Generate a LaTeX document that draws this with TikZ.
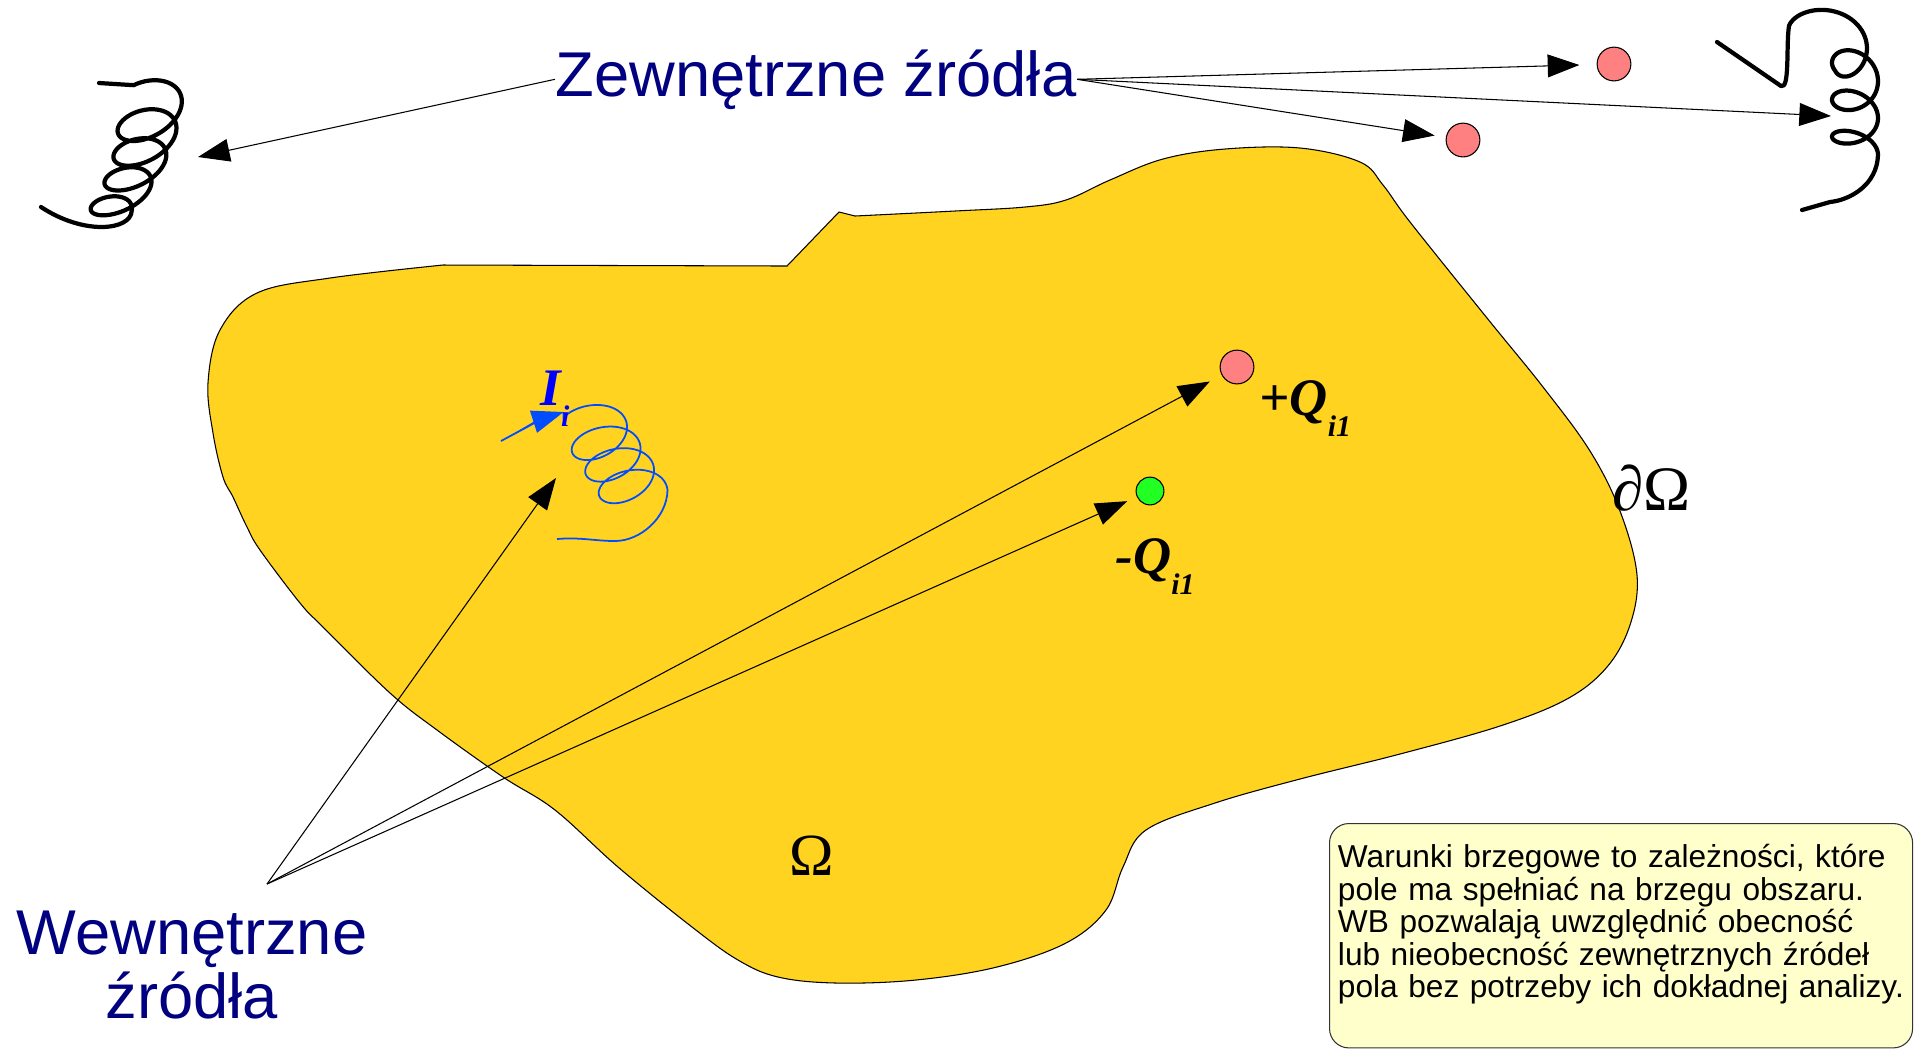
\documentclass[tikz,border=0pt]{standalone}
\usepackage{fontspec}
\setmainfont{Liberation Serif}
\setsansfont{Liberation Sans}
\usetikzlibrary{arrows.meta}
\definecolor{domainFill}{HTML}{FFD320}
\definecolor{labelNavy}{HTML}{000080}
\definecolor{chargePos}{HTML}{FF8080}
\definecolor{chargeNeg}{HTML}{22FF22}
\definecolor{currentBlue}{HTML}{004DFF}
\definecolor{noteFill}{HTML}{FFFFCC}

\begin{document}
\begin{tikzpicture}[
  x=0.01cm, y=-0.01cm,                          % 1 unit = 1 px of a 1920x1050 sheet, y down
  region/.style={fill=domainFill, draw=black, line width=0.3pt},
  srclabel/.style={font=\sffamily\fontsize{18}{18.4}\selectfont, text=labelNavy,
                   inner sep=0pt, align=center},
  pointer/.style={-{Triangle[length=9pt, width=6.5pt]}, draw=black, line width=0.3pt},
  spring/.style={draw=black, line width=1.2pt, line cap=round, line join=round},
  current/.style={draw=currentBlue, line width=0.5pt},
  poscharge/.style={circle, draw=black, line width=0.3pt, fill=chargePos,
                    minimum size=9.6pt, inner sep=0pt},
  negcharge/.style={circle, draw=black, line width=0.3pt, fill=chargeNeg,
                    minimum size=7.9pt, inner sep=0pt},
  qlabel/.style={font=\bfseries\itshape\fontsize{15}{15}\selectfont, inner sep=0pt},
  omega/.style={font=\fontsize{17}{17}\selectfont, inner sep=0pt},
  notebox/.style={rectangle, rounded corners=5.5pt, draw=black!80, line width=0.3pt,
                  fill=noteFill, font=\sffamily\fontsize{9}{9.25}\selectfont,
                  align=left, text width=161pt, inner xsep=2.4pt, inner ysep=4pt,
                  text height=8.5pt, text depth=47.3pt}
]
  \useasboundingbox (0,0) rectangle (1920,1050);

  % --- the domain Omega ---
  \draw[region] (787,266) -- (839,212) -- (855,216)
    -- plot[smooth, tension=0.6] coordinates {(855,216) (955,211) (1025,207) (1066,200)
       (1110,180) (1163,159) (1225,149) (1300,148) (1360,162) (1383,185) (1410,222)
       (1487,318) (1543,387) (1590,451) (1620,511) (1637,575) (1630,625) (1607,667)
       (1567,699) (1500,726) (1400,754) (1300,779) (1215,803) (1146,830) (1123,867)
       (1106,910) (1066,943) (997,967) (916,980) (836,983) (778,977) (738,960)
       (692,927) (618,867) (555,810) (503,777) (437,730) (390,693) (323,627)
       (300,603) (260,550) (247,527) (233,497) (223,477) (213,433) (208,383)
       (220,330) (257,293) (330,278) (443,265)}
    -- cycle;

  % --- labels ---
  \node[srclabel, anchor=base] (ext) at (816,96) {Zewnętrzne źródła};
  \node[srclabel, anchor=north] (int) at (192,910) {Wewnętrzne\\źródła};
  \node[omega, anchor=base] (om) at (812,875) {Ω};
  \node[omega, font=\fontsize{18}{18}\selectfont, anchor=base west] (bd) at (1612,510) {∂Ω};

  % --- charges ---
  \node[poscharge] (qplus)  at (1237,367) {};
  \node[negcharge] (qminus) at (1150,491) {};
  \node[poscharge] (qext1)  at (1614,64) {};
  \node[poscharge] (qext2)  at (1463,140) {};
  \node[qlabel, anchor=base west] (lplus) at (1259,415)
    {+Q\raisebox{-6pt}{\fontsize{8.5}{8.5}\selectfont i1}};
  \node[qlabel, anchor=base west] (lminus) at (1115,573)
    {-Q\raisebox{-6pt}{\fontsize{8.5}{8.5}\selectfont i1}};

  % --- external springs (currents outside the domain) ---
  \draw[spring] (99,83)
    -- plot[domain=-120:1440, samples=220]
       ({150-0.184*((\x+90)/100)*((\x+90)/100) + (32-0.005*\x)*cos(\x)},
        {109.7+0.0745*\x + (22-0.006*\x)*sin(\x) - 0.25*(32-0.005*\x)*cos(\x)})
    .. controls (131,230) and (85,236) .. (41,207);
  \draw[spring] (1717,42) -- (1781,86) .. controls (1790,90) and (1786,45) .. (1789,25.8)
    -- plot[domain=180:1440, samples=200]
       ({1822+min(0.1*(\x-180),33) + max(33-0.035*(\x-180),23)*cos(\x)},
        {7.3+0.1026*\x + (27-0.01*\x)*sin(\x)})
    .. controls (1877,185) and (1850,200) .. (1830,202) -- (1802,210);

  % --- internal current loop I_i ---
  \coordinate (leadin) at (501,441);
  \coordinate (coilin) at (563.6,412);
  \draw[current, -{Triangle[length=9pt, width=6.5pt]}, fill=currentBlue]
    (leadin) .. controls (525,428) and (545,418) .. (coilin);
  \draw[current] (coilin)
    -- plot[domain=-150:1080, samples=180]
       ({596+0.0375*\x + 31*cos(\x)}, {431.5+0.06*\x + 21*sin(\x) - 0.2*31*cos(\x)})
    .. controls (667,518) and (640,541) .. (615,541)
    .. controls (595,541) and (580,537) .. (557,539);
  \node[qlabel, text=blue, anchor=base west] (lcur) at (540,405)
    {I\raisebox{-6.2pt}{\fontsize{8.5}{8.5}\selectfont i}};

  % --- pointers from the labels ---
  \coordinate (coilL) at (198,157);
  \coordinate (coilR) at (1831,116);
  \coordinate (coilhit) at (556,478);
  \coordinate (src) at (267,884);
  \draw[pointer] (ext.west) -- (coilL);
  \draw[pointer, shorten >=4.9pt] (ext.east) -- (qext1);
  \draw[pointer] (ext.east) -- (coilR);
  \draw[pointer, shorten >=3.2pt] (ext.east) -- (qext2);
  \draw[pointer] (src) -- (coilhit);
  \draw[pointer, shorten >=3.8pt] (src) -- (qplus);
  \draw[pointer, shorten >=3pt] (src) -- (qminus);

  % --- note ---
  \node[notebox, anchor=north west] (note) at (1329,823)
    {Warunki brzegowe to zależności, które\\
     pole ma spełniać na brzegu obszaru.\\
     WB pozwalają uwzględnić obecność\\
     lub nieobecność zewnętrznych źródeł\\
     pola bez potrzeby ich dokładnej analizy.};

\end{tikzpicture}
\end{document}
